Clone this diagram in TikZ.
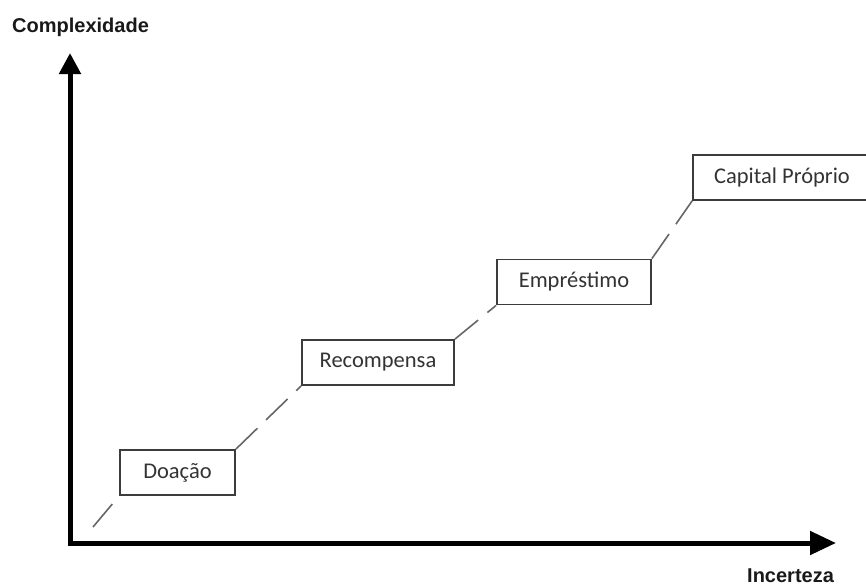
\documentclass[tikz,border=0pt]{standalone}
\usepackage{fontspec}
\setmainfont{Carlito}
\newfontfamily\eixofont{Liberation Sans}
\usetikzlibrary{arrows.meta}
\definecolor{borda}{HTML}{3C3C3C}
\definecolor{tracejado}{HTML}{666666}
\tikzset{
  caixa/.style={draw=borda, line width=1.8pt, minimum height=45pt, inner sep=0pt,
    text=black!80, font=\fontsize{22.5}{26}\selectfont},
  eixo/.style={line width=5pt, line join=miter, {Triangle[length=21pt,width=21pt]}-{Triangle[length=26pt,width=23pt]}},
  rotulo/.style={font=\eixofont\bfseries\fontsize{20}{24}\selectfont, text=black!90, inner sep=0pt},
  ligacao/.style={draw=tracejado, line width=1.6pt, dash pattern=on 30pt off 12pt}
}
\begin{document}
\begin{tikzpicture}[x=1pt,y=-1pt]
\useasboundingbox (0,0) rectangle (866,587);
% eixos
\coordinate (topo) at (70,53);
\coordinate (origem) at (70,543);
\coordinate (fim) at (836,543);
\draw[eixo] (topo)--(origem)--(fim);
\node[rotulo, anchor=base west] (complexidade) at (12,32) {Complexidade};
\node[rotulo, anchor=base west] (incerteza) at (747,582) {Incerteza};
% caixas
\node[caixa, minimum width=115pt] (doacao) at (177.5,472.5) {Doação\hspace{6pt}};
\node[caixa, minimum width=152pt] (recompensa) at (378,362.5) {Recompensa};
\node[caixa, minimum width=154pt] (emprestimo) at (574,282) {Empréstimo};
\node[caixa, minimum width=178pt] (capital) at (782,177.5) {Capital Próprio\hspace{4pt}};
% linhas tracejadas
\coordinate (inicio) at (93,527);
\draw[ligacao] (inicio)--(doacao.south west);
\draw[ligacao] (doacao.north east)--(recompensa.south west);
\draw[ligacao] (recompensa.north east)--(emprestimo.south west);
\draw[ligacao] (emprestimo.north east)--(capital.south west);
\end{tikzpicture}
\end{document}
